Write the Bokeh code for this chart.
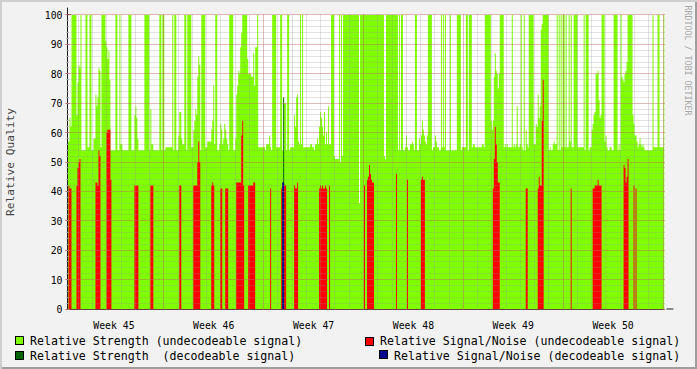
import numpy as np
from bokeh.plotting import figure
from bokeh.layouts import column
from bokeh.models import (SingleIntervalTicker, FixedTicker, Range1d, Arrow, NormalHead, Title, Div)
from bokeh.embed import file_html
from bokeh.resources import INLINE

# ---------------- data ----------------
# RRD samples: one row every 1.68 h, first row starts 5.88 h after the start of week 45
STEP_H = 1.68
T0_H = 5.88
N_SAMPLES = 598

week_ticks = [84, 252, 420, 588, 756, 924]          # hours (middle of each week)
week_labels = ["Week 45", "Week 46", "Week 47", "Week 48", "Week 49", "Week 50"]

# Relative Strength (undecodeable): run starts (sample index) and values
green_start = [0, 2, 3, 4, 9, 10, 11, 12, 13, 14, 18, 20, 22, 24, 26, 28, 29, 30, 31, 32, 33, 34, 38, 39, 40, 41, 42, 43,
               48, 50, 52, 53, 55, 61, 64, 67, 68, 69, 70, 71, 77, 82, 83, 84, 86, 92, 94, 95, 97,
               98, 105, 106, 107, 109, 111, 112, 114, 115, 117, 119, 120, 124, 126, 127, 128, 129, 130, 131, 132, 133,
               134, 138, 140, 144, 145, 146, 147, 148, 150, 152, 153, 154, 155, 156, 157, 158, 159, 160, 161, 162, 166,
               168, 169, 170, 171, 172, 173, 174, 175, 180, 181, 184, 186, 187, 188, 190, 191,
               198, 199, 202, 203, 204, 205, 209, 213, 215, 217, 219, 220, 222, 223, 227, 228, 229, 230, 231, 232, 233,
               234, 235, 236, 243, 245, 247, 248, 250, 251, 252, 253, 254, 255, 256, 257, 258, 259, 260, 261, 262, 264,
               267, 268, 272, 273, 274, 275, 276, 292, 293,
               317, 318, 319, 331, 332, 333, 334, 336, 338, 339, 340, 341, 343, 345, 346, 347, 348, 350, 352, 353, 354,
               355, 356, 357, 358, 359, 360, 361, 365, 366, 368, 369, 370, 372, 374, 375, 376, 377, 378, 379, 383, 384,
               390, 394, 395,
               399, 401, 402, 405, 406, 408, 415, 417, 418, 424, 425, 426, 427, 428, 429, 430, 431, 432, 433, 437, 438,
               439, 440, 441, 445, 446, 447, 448, 449, 450, 451, 453, 454, 455, 456, 457, 458, 459, 460, 461, 462, 467,
               469, 470, 471, 472, 473, 474, 475, 476, 482, 483, 484, 486, 487, 488, 490, 491, 492, 493, 494, 495, 496,
               498,
               499, 500, 502, 503, 504, 505, 507, 511, 517, 518, 519, 522, 523, 525, 526, 527, 528, 529, 531, 532, 533,
               534, 535, 538, 539, 540, 541, 543, 545, 547, 551, 552, 553, 554, 555, 556, 557, 558, 559, 560, 561, 566,
               567, 568, 570, 571, 572, 573, 574, 575, 576, 577, 578, 586, 587, 591, 593, 597]
green_value = [57, 65, 62, 100, 66, 77, 83, 82, 100, 54, 100, 55, 100, 54, 58, 73, 69, 72, 82, 81, 55, 100, 91, 89, 85, 88, 78, 54,
               100, 54, 100, 56, 54, 100, 54, 66, 69, 65, 58, 54, 100, 54, 68, 56, 54, 100, 54, 100, 54,
               55, 100, 54, 100, 54, 59, 67, 58, 56, 100, 54, 100, 55, 61, 64, 68, 66, 79, 86, 83, 54,
               100, 55, 57, 61, 64, 76, 56, 100, 54, 56, 63, 61, 56, 58, 63, 61, 58, 56, 54, 100, 54,
               58, 73, 76, 81, 80, 89, 94, 100, 85, 80, 79, 87, 76, 89, 100, 55,
               54, 56, 59, 55, 54, 100, 55, 100, 54, 70, 54, 100, 54, 55, 66, 62, 72, 73, 57, 56, 100,
               56, 100, 55, 56, 55, 54, 56, 58, 56, 62, 67, 65, 62, 59, 67, 56, 60, 56, 69, 56, 100,
               52, 51, 100, 50, 100, 52, 100, 36, 100,
               52, 51, 100, 54, 100, 54, 100, 54, 55, 59, 55, 54, 56, 57, 56, 54, 100, 54, 58, 56, 59,
               64, 61, 59, 57, 56, 59, 100, 54, 55, 59, 57, 55, 54, 100, 55, 100, 55, 100, 54, 100, 54,
               100, 54, 55,
               100, 54, 100, 55, 56, 55, 56, 55, 100, 64, 61, 64, 79, 87, 81, 80, 75, 80, 100, 55, 56,
               55, 56, 55, 100, 55, 56, 55, 56, 69, 55, 56, 100, 55, 54, 100, 54, 61, 56, 55, 100, 56,
               63, 62, 73, 65, 69, 95, 97, 100, 54, 55, 54, 56, 57, 56, 100, 54, 100, 54, 100, 55, 100,
               55,
               100, 55, 100, 57, 100, 55, 100, 55, 100, 54, 100, 54, 55, 61, 63, 66, 67, 80, 81, 71, 65,
               66, 100, 57, 59, 55, 54, 55, 54, 100, 54, 56, 54, 100, 79, 78, 77, 80, 81, 84, 100, 66,
               63, 59, 57, 55, 56, 58, 56, 55, 56, 55, 54, 100, 55, 100, 55, 100]

# Relative Strength (decodeable)
dgreen_start = [0, 216, 217]
dgreen_value = [0, 72, 0]

# Relative Signal/Noise (undecodeable)
red_start = [0, 1, 2, 4, 9, 10, 11, 12, 13, 28, 30, 31, 32, 33, 39, 40, 43, 44, 67, 71, 83, 86,
             112, 114, 126, 130, 131, 132, 133, 144, 145, 146, 147, 153, 155, 158, 161, 169, 174, 175, 176, 177,
             181, 186, 188,
             203, 204, 214, 215, 217, 219, 227, 228, 230, 231, 252, 253, 254, 255, 256, 258, 259, 260, 262, 263,
             297, 298,
             300, 301, 302, 303, 304, 305, 307, 329, 330, 340, 341, 354, 355, 356, 358,
             426, 427, 428, 429, 430, 431, 433, 459, 461, 471, 472, 473, 475, 476, 477,
             504, 505, 526, 528, 531, 532, 535, 557, 558, 559, 560, 561, 562, 567, 568, 569, 570]
red_value = [0, 42, 41, 0, 42, 48, 50, 51, 0, 43, 42, 54, 52, 0, 60, 61, 44, 0, 42, 0, 42, 0,
             42, 0, 42, 50, 57, 50, 0, 42, 43, 42, 0, 41, 0, 41, 0, 43, 59, 64, 42, 0,
             42, 43, 0,
             41, 0, 41, 0, 42, 0, 42, 41, 43, 0, 41, 42, 41, 42, 41, 42, 41, 0, 42, 0,
             42, 0,
             44, 45, 49, 46, 44, 43, 0, 46, 0, 44, 0, 44, 45, 44, 0,
             41, 51, 62, 56, 50, 43, 0, 41, 0, 41, 45, 42, 64, 78, 0,
             41, 0, 41, 42, 44, 42, 0, 49, 48, 43, 45, 51, 0, 42, 0, 41, 0]

# Relative Signal/Noise (decodeable)
blue_start = [0, 215, 217]
blue_value = [0, 43, 0]

legend_names = ["Relative Strength (undecodeable signal)",
                "Relative Strength &nbsp;(decodeable signal)",
                "Relative Signal/Noise (undecodeable signal)",
                "Relative Signal/Noise (decodeable signal)"]
series_colors = ["#80FF00", "#006400", "#FF0000", "#000090"]


def expand(starts, vals):
    lens = np.diff(np.array(list(starts) + [N_SAMPLES]))
    v = np.repeat(np.array(vals, dtype=float), lens)
    return np.append(v, v[-1])


edges = T0_H + STEP_H * np.arange(N_SAMPLES + 1)
x_end = T0_H + STEP_H * N_SAMPLES
Y_PAD = 1 / 6   # half a pixel, keeps 1px grid lines crisp
BG = "#F2F2F2"

# frame: canvas x 66..664, y 14..315 ; border area transparent so the page frame shows through
p = figure(width=697, height=333, x_range=Range1d(T0_H, x_end), y_range=Range1d(-Y_PAD, 100 + Y_PAD),
           output_backend="svg", toolbar_location=None,
           min_border_left=66, min_border_right=33, min_border_top=14, min_border_bottom=18,
           background_fill_color="white", border_fill_color=None, outline_line_color=None)

for starts, vals, col in [(green_start, green_value, series_colors[0]),
                          (dgreen_start, dgreen_value, series_colors[1]),
                          (red_start, red_value, series_colors[2]),
                          (blue_start, blue_value, series_colors[3])]:
    y = expand(starts, vals)
    p.varea_step(x=edges, y1=np.zeros_like(y), y2=y, step_mode="after", fill_color=col)

# axes
p.xaxis.ticker = FixedTicker(ticks=week_ticks)
p.xaxis.major_label_overrides = {t: l for t, l in zip(week_ticks, week_labels)}
p.xaxis.major_tick_line_color = None
p.xaxis.minor_tick_line_color = None
p.xaxis.major_label_standoff = 4
p.yaxis.ticker = SingleIntervalTicker(interval=10, num_minor_ticks=5)
p.yaxis.major_tick_out = 2
p.yaxis.major_tick_in = 2
p.yaxis.minor_tick_out = 1
p.yaxis.minor_tick_in = 1
p.yaxis.minor_tick_line_color = "#9A9A9A"
p.yaxis.major_tick_line_color = "#DE4F4F"
p.yaxis.major_label_standoff = 3
p.yaxis.axis_label = "Relative Quality"
p.yaxis.axis_label_standoff = 25
p.yaxis.axis_label_text_font = "DejaVu Sans Mono"
p.yaxis.axis_label_text_font_size = "11.2px"
p.yaxis.axis_label_text_font_style = "normal"
for ax in (p.xaxis, p.yaxis):
    ax.axis_line_color = "#1F1F1F"
    ax.major_label_text_font = "DejaVu Sans Mono"
    ax.major_label_text_font_size = "9.8px"
    ax.major_label_text_color = "black"

p.xgrid.ticker = SingleIntervalTicker(interval=168, num_minor_ticks=7)
for g in (p.xgrid, p.ygrid):
    g.grid_line_color = "#DE4F4F"
    g.grid_line_alpha = 0.55
    g.grid_line_dash = "1 1"
    g.minor_grid_line_color = "#8F8F8F"
    g.minor_grid_line_alpha = 0.5
    g.minor_grid_line_dash = "1 1"
    g.level = "overlay"

# axis arrows
p.add_layout(Arrow(end=NormalHead(size=7, fill_color="#801F1F", line_color="#801F1F", line_width=1),
                   x_start=T0_H, y_start=100, x_end=T0_H, y_end=102.5, line_color="#1F1F1F"))
p.add_layout(Arrow(end=NormalHead(size=7, fill_color="#801F1F", line_color="#801F1F", line_width=1),
                   x_start=x_end, y_start=0, x_end=x_end + 15, y_end=0, line_color="#1F1F1F"))

# watermark on the right (a blank spacer title pushes it outwards)
p.add_layout(Title(text=" ", text_font_size="8.3px", standoff=6), "right")
p.add_layout(Title(text="RRDTOOL / TOBI OETIKER", text_font="DejaVu Sans Mono", text_font_size="8.3px",
                   text_color="#A8A8A8", text_font_style="normal", align="left", standoff=0, offset=-9), "right")

# legend strip (rrdtool style) below the graph
sw_left = [15, 15, 365, 379]
sw_top = [3, 17.5, 3.5, 17]
tx_left = [30, 30, 380, 394]
tx_top = [1, 15.5, 1, 15.5]
parts = []
for i in range(4):
    parts.append(
        f'<div style="position:absolute;left:{sw_left[i]}px;top:{sw_top[i]}px;width:9px;height:9px;'
        f'background:{series_colors[i]};border:1px solid #000;"></div>')
    parts.append(
        f'<div style="position:absolute;left:{tx_left[i]}px;top:{tx_top[i]}px;line-height:14px;'
        f'white-space:pre;color:#000;">{legend_names[i]}</div>')
legend_html = ('<div style="position:relative;width:697px;height:36px;'
               'font-family:\'DejaVu Sans Mono\',monospace;font-size:11.6px;">%s</div>' % "".join(parts))
legend_div = Div(text=legend_html, width=697, height=36, margin=0)

layout = column(p, legend_div, spacing=0,
                styles={"background-color": BG,
                        "box-shadow": "inset 2px 2px 0 0 #CFCFCF, inset -2px -2px 0 0 #9E9E9E"})
open("out.html", "w").write(file_html(layout, INLINE))
